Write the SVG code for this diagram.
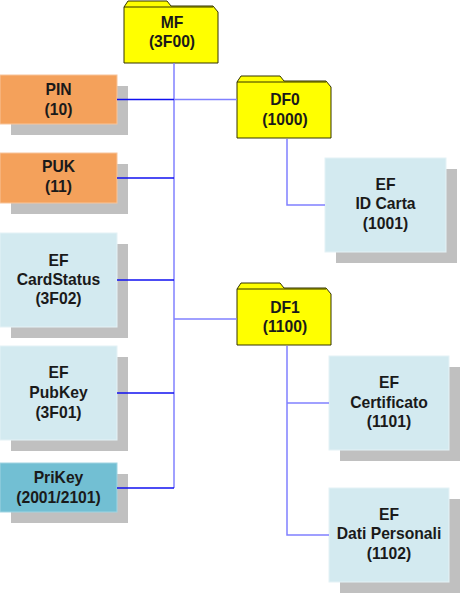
<svg xmlns="http://www.w3.org/2000/svg" width="461" height="594" viewBox="0 0 461 594">
<defs>
<style>
text{font-family:"Liberation Sans",Arial,sans-serif;font-weight:bold;font-size:15.7px;fill:#1a1a1a;text-anchor:middle}
.sh{fill:#c0c0c0}
.ef{fill:#d3eaf0;stroke:#e4f2f6;stroke-width:1}
.pin{fill:#f4a15b;stroke:#f8c49a;stroke-width:1}
.pk{fill:#72bfd3;stroke:#a0d4e2;stroke-width:1}
.fd{fill:#ffff00;stroke:#333300;stroke-width:1}
.tr{stroke:#8080ff;stroke-width:1.5;fill:none}
.br{stroke:#1010f0;stroke-width:1.3;fill:none}
</style>
<path id="folder" d="M0,62 L0,6 L4,0 L43,0 L47,5 L89,5 L94,11 L94,62 Z M0,6 L89,6"/>
</defs>
<g id="MF"><use href="#folder" class="fd" x="124" y="1"/><text x="172" y="28">MF</text><text x="172" y="47">(3F00)</text></g>
<g id="DF0"><use href="#folder" class="fd" x="237" y="76"/><text x="285" y="105">DF0</text><text x="285" y="125">(1000)</text></g>
<g id="DF1"><use href="#folder" class="fd" x="237" y="283"/><text x="285" y="313">DF1</text><text x="285" y="332">(1100)</text></g>
<g id="PIN"><rect class="sh" x="11" y="86" width="117" height="49"/><rect class="pin" x="0" y="75" width="117" height="49"/><text x="58.5" y="94.5">PIN</text><text x="58.5" y="114.5">(10)</text></g>
<g id="PUK"><rect class="sh" x="11" y="164" width="117" height="50"/><rect class="pin" x="0" y="153" width="117" height="50"/><text x="58.5" y="172">PUK</text><text x="58.5" y="192">(11)</text></g>
<g id="CardStatus"><rect class="sh" x="11" y="244" width="117" height="94"/><rect class="ef" x="0" y="233" width="117" height="94"/><text x="58.5" y="266">EF</text><text x="58.5" y="285">CardStatus</text><text x="58.5" y="304">(3F02)</text></g>
<g id="PubKey"><rect class="sh" x="11" y="357" width="117" height="94"/><rect class="ef" x="0" y="346" width="117" height="94"/><text x="58.5" y="378">EF</text><text x="58.5" y="398">PubKey</text><text x="58.5" y="418">(3F01)</text></g>
<g id="PriKey"><rect class="sh" x="11" y="474" width="117" height="49"/><rect class="pk" x="0" y="463" width="117" height="49"/><text x="58.5" y="483">PriKey</text><text x="58.5" y="503">(2001/2101)</text></g>
<g id="IDCarta"><rect class="sh" x="336" y="169" width="121" height="94"/><rect class="ef" x="325" y="158" width="121" height="94"/><text x="385.5" y="190">EF</text><text x="385.5" y="209">ID Carta</text><text x="385.5" y="229">(1001)</text></g>
<g id="Certificato"><rect class="sh" x="340" y="367" width="120" height="94"/><rect class="ef" x="329" y="356" width="120" height="94"/><text x="389" y="388">EF</text><text x="389" y="408">Certificato</text><text x="389" y="427">(1101)</text></g>
<g id="DatiPersonali"><rect class="sh" x="340" y="499" width="120" height="94"/><rect class="ef" x="329" y="488" width="120" height="94"/><text x="389" y="520">EF</text><text x="389" y="539">Dati Personali</text><text x="389" y="559">(1102)</text></g>
<g id="connectors">
<path class="tr" d="M174,63 V488"/>
<path class="br" d="M117,99.5 H174"/>
<path class="tr" d="M174,99.5 H237"/>
<path class="br" d="M117,178 H174"/>
<path class="br" d="M117,280 H174"/>
<path class="tr" d="M174,319 H237"/>
<path class="br" d="M117,393 H174"/>
<path class="br" d="M117,488 H174"/>
<path class="tr" d="M287,139 V205 H325"/>
<path class="tr" d="M287,346 V535 H329"/>
<path class="tr" d="M287,403 H329"/>
</g>
</svg>
